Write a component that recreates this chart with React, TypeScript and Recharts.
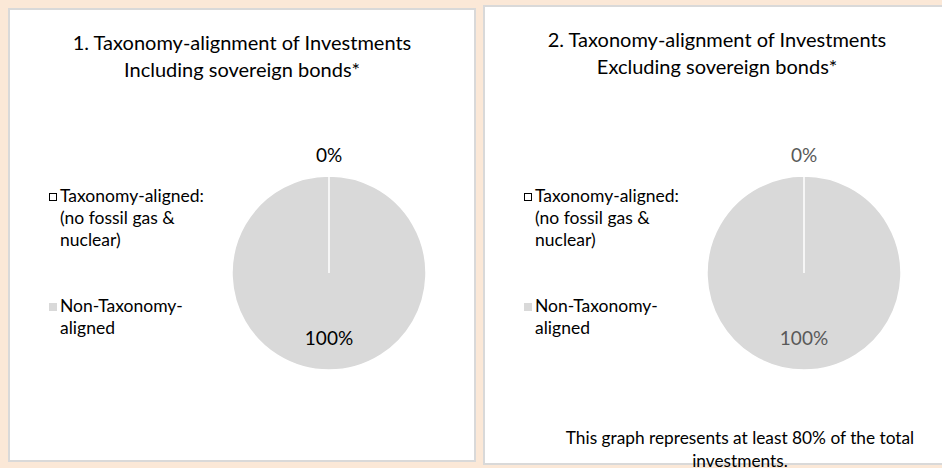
import React from 'react';
import { PieChart, Pie, Cell, Legend } from 'recharts';

const categories = ['Taxonomy-aligned: (no fossil gas & nuclear)', 'Non-Taxonomy-aligned'];
const includingValues = [0, 100];
const excludingValues = [0, 100];
const titles1 = ['1. Taxonomy-alignment of Investments', 'Including sovereign bonds*'];
const titles2 = ['2. Taxonomy-alignment of Investments', 'Excluding sovereign bonds*'];
const footnote = ['This graph represents at least 80% of the total', 'investments.'];

const FILLS = ['#ffffff', '#d9d9d9'];
const FONT = 'Lato, "Noto Sans", sans-serif';
const RADIAN = Math.PI / 180;

function makeLabel(color: string) {
  return (props: any) => {
    const { cx, cy, midAngle, outerRadius, percent, value } = props;
    const r = percent < 0.05 ? outerRadius + 22 : outerRadius * 0.67;
    const x = cx + r * Math.cos(-midAngle * RADIAN);
    const y = cy + r * Math.sin(-midAngle * RADIAN);
    return (
      <text x={x} y={y} fill={color} textAnchor="middle" dominantBaseline="central" fontSize={19} fontFamily={FONT}>
        {`${value}%`}
      </text>
    );
  };
}

function LegendBox({ payload }: any) {
  // keep the categories' own order (legend sorts by name otherwise)
  const items = [...(payload || [])].sort(
    (a: any, b: any) => categories.indexOf(a.value) - categories.indexOf(b.value)
  );
  return (
    <div style={{ fontFamily: FONT, fontSize: 17.5, lineHeight: '22px', color: '#000' }}>
      {items.map((entry: any, i: number) => (
        <div key={i} style={{ display: 'flex', alignItems: 'flex-start', marginBottom: i === 0 ? 44 : 0 }}>
          <div
            style={{
              width: 8,
              height: 8,
              marginTop: 8,
              marginRight: 3,
              boxSizing: 'border-box',
              background: i === 0 ? '#fff' : '#d9d9d9',
              border: i === 0 ? '1px solid #000' : 'none',
              flexShrink: 0,
            }}
          />
          <div style={{ width: 152 }}>{entry.value}</div>
        </div>
      ))}
    </div>
  );
}

interface PanelProps {
  left: number;
  top: number;
  width: number;
  height: number;
  borderRight: boolean;
  titles: string[];
  values: number[];
  labelColor: string;
  cy: number;
  titleTop: number;
  legendTop: number;
  children?: React.ReactNode;
}

function Panel({ left, top, width, height, borderRight, titles, values, labelColor, cy, titleTop, legendTop, children }: PanelProps) {
  const data = categories.map((name, i) => ({ name, value: values[i] }));
  return (
    <div
      style={{
        position: 'absolute',
        left,
        top,
        width,
        height,
        boxSizing: 'border-box',
        background: '#fff',
        border: '2px solid #d9d9d9',
        borderRight: borderRight ? '2px solid #d9d9d9' : 'none',
      }}
    >
      <div
        style={{
          position: 'absolute',
          left: 0,
          width: 464,
          top: titleTop,
          textAlign: 'center',
          fontFamily: FONT,
          fontSize: 20,
          lineHeight: '27px',
          color: '#000',
        }}
      >
        {titles.map((t, i) => (
          <div key={i}>{t}</div>
        ))}
      </div>
      <div style={{ position: 'absolute', left: 0, top: 0 }}>
        <PieChart width={width - 4} height={height - 4}>
          <Pie
            data={data}
            dataKey="value"
            nameKey="name"
            cx={314}
            cy={cy}
            outerRadius={97}
            startAngle={90}
            endAngle={-270}
            stroke="#ffffff"
            strokeWidth={1.5}
            label={makeLabel(labelColor)}
            labelLine={false}
            isAnimationActive={false}
          >
            {data.map((_, i) => (
              <Cell key={`cell-${i}`} fill={FILLS[i]} />
            ))}
          </Pie>
          <Legend
            layout="vertical"
            content={<LegendBox />}
            wrapperStyle={{ position: 'absolute', left: 39, top: legendTop, width: 175 }}
          />
        </PieChart>
      </div>
      {children}
    </div>
  );
}

export default function App() {
  return (
    <div style={{ position: 'fixed', left: 0, top: 0, width: 942, height: 468, background: '#fbe8d7', overflow: 'hidden' }}>
      <Panel
        left={8}
        top={8}
        width={468}
        height={454}
        borderRight
        titles={titles1}
        values={includingValues}
        labelColor="#000"
        cy={258}
        titleTop={19}
        legendTop={175}
      />
      <Panel
        left={483}
        top={5}
        width={470}
        height={460}
        borderRight={false}
        titles={titles2}
        values={excludingValues}
        labelColor="#595959"
        cy={261}
        titleTop={19}
        legendTop={178}
      >
        <div
          style={{
            position: 'absolute',
            left: 55,
            width: 400,
            top: 419,
            textAlign: 'center',
            fontFamily: FONT,
            fontSize: 17.3,
            lineHeight: '23px',
            color: '#000',
          }}
        >
          {footnote.map((t, i) => (
            <div key={i}>{t}</div>
          ))}
        </div>
      </Panel>
    </div>
  );
}
